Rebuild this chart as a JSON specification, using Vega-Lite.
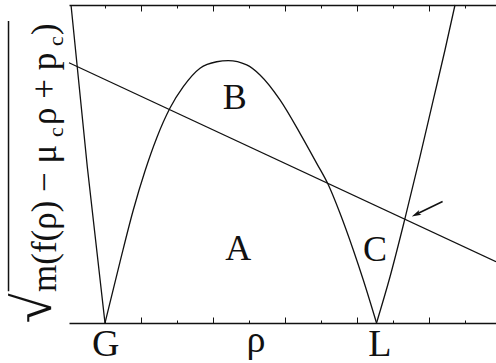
{
  "$schema": "https://vega.github.io/schema/vega-lite/v6.json",
  "width": 427,
  "height": 318,
  "autosize": {"type": "none"},
  "padding": {"left": 69, "top": 5, "right": 0, "bottom": 40},
  "background": "white",
  "config": {"view": {"stroke": null}, "font": "Liberation Serif"},
  "datasets": {
    "curve": [
      {"seg": "left", "rho": 0.056, "v": 2.0},
      {"seg": "left", "rho": 0.508, "v": 0.983},
      {"seg": "left", "rho": 1.0, "v": 0.0},
      {"seg": "mid", "rho": 1.0, "v": 0.0},
      {"seg": "mid", "rho": 1.417, "v": 0.385},
      {"seg": "mid", "rho": 1.786, "v": 0.711},
      {"seg": "mid", "rho": 2.111, "v": 0.956},
      {"seg": "mid", "rho": 2.436, "v": 1.164},
      {"seg": "mid", "rho": 2.806, "v": 1.352},
      {"seg": "mid", "rho": 3.175, "v": 1.486},
      {"seg": "mid", "rho": 3.639, "v": 1.602},
      {"seg": "mid", "rho": 4.103, "v": 1.643},
      {"seg": "mid", "rho": 4.425, "v": 1.65},
      {"seg": "mid", "rho": 4.936, "v": 1.623},
      {"seg": "mid", "rho": 5.306, "v": 1.56},
      {"seg": "mid", "rho": 5.861, "v": 1.403},
      {"seg": "mid", "rho": 6.417, "v": 1.193},
      {"seg": "mid", "rho": 6.881, "v": 1.004},
      {"seg": "mid", "rho": 7.203, "v": 0.869},
      {"seg": "mid", "rho": 7.528, "v": 0.69},
      {"seg": "mid", "rho": 7.897, "v": 0.459},
      {"seg": "mid", "rho": 8.175, "v": 0.27},
      {"seg": "mid", "rho": 8.542, "v": 0.0},
      {"seg": "right", "rho": 8.542, "v": 0.0},
      {"seg": "right", "rho": 8.917, "v": 0.291},
      {"seg": "right", "rho": 9.333, "v": 0.658},
      {"seg": "right", "rho": 9.75, "v": 1.046},
      {"seg": "right", "rho": 10.119, "v": 1.403},
      {"seg": "right", "rho": 10.444, "v": 1.717},
      {"seg": "right", "rho": 10.722, "v": 2.0}
    ],
    "tangent": [
      {"rho": 0.0, "v": 1.637},
      {"rho": 11.861, "v": 0.386}
    ],
    "arrowShaft": [
      {"rho": 10.378, "v": 0.764},
      {"rho": 9.66, "v": 0.686}
    ],
    "arrowHead": [
      {"rho": 9.64, "v": 0.683}
    ],
    "regions": [
      {"label": "B", "rho": 4.603, "v": 1.346},
      {"label": "A", "rho": 4.703, "v": 0.396},
      {"label": "C", "rho": 8.5, "v": 0.39}
    ],
    "points": [
      {"label": "G", "rho": 1.022, "v": -0.208},
      {"label": "ρ", "rho": 5.194, "v": -0.18},
      {"label": "L", "rho": 8.633, "v": -0.208}
    ],
    "titleMain": [
      {"t": "m(f(ρ) − μ", "rho": -0.361, "v": 0.195},
      {"t": "ρ + p", "rho": -0.361, "v": 1.245},
      {"t": ")", "rho": -0.361, "v": 1.811}
    ],
    "titleSub": [
      {"t": "c", "rho": -0.18, "v": 1.17},
      {"t": "c", "rho": -0.18, "v": 1.742}
    ],
    "radical": [
      {"t": "√", "rho": -0.5, "v": 0.0}
    ],
    "overline": [
      {"rho": -1.68, "v": 0.2, "v2": 1.9}
    ]
  },
  "layer": [
    {
      "data": {"name": "curve"},
      "mark": {"type": "line", "interpolate": "monotone", "color": "#111", "strokeWidth": 1.3},
      "encoding": {
        "x": {
          "field": "rho", "type": "quantitative",
          "scale": {"domain": [0, 11.861], "nice": false, "zero": false},
          "axis": {
            "orient": "bottom", "title": null, "labels": false, "grid": false,
            "values": [1, 2, 3, 4, 5, 6, 7, 8, 9, 10, 11],
            "domainColor": "#111", "domainWidth": 1.5,
            "tickColor": "#111", "tickWidth": 1,
            "tickSize": {"condition": {"test": "datum.value % 2 === 0", "value": -6}, "value": -3}
          }
        },
        "y": {
          "field": "v", "type": "quantitative",
          "scale": {"domain": [0, 2], "nice": false, "zero": false},
          "axis": {
            "orient": "left", "title": null, "labels": false, "grid": false,
            "values": [1],
            "domainColor": "#111", "domainWidth": 1.5,
            "tickColor": "#111", "tickWidth": 1, "tickSize": -5
          }
        },
        "detail": {"field": "seg", "type": "nominal"}
      }
    },
    {
      "data": {"name": "tangent"},
      "mark": {"type": "line", "color": "#111", "strokeWidth": 1.3},
      "encoding": {
        "x": {
          "field": "rho", "type": "quantitative",
          "scale": {"domain": [0, 11.861], "nice": false, "zero": false},
          "axis": {
            "orient": "top", "title": null, "labels": false, "grid": false,
            "values": [1, 2, 3, 4, 5, 6, 7, 8, 9, 10, 11],
            "domainColor": "#111", "domainWidth": 1.5,
            "tickColor": "#111", "tickWidth": 1,
            "tickSize": {"condition": {"test": "datum.value % 2 === 0", "value": -6}, "value": -3}
          }
        },
        "y": {"field": "v", "type": "quantitative", "axis": null}
      }
    },
    {
      "data": {"name": "arrowShaft"},
      "mark": {"type": "line", "color": "#111", "strokeWidth": 1.6},
      "encoding": {
        "x": {"field": "rho", "type": "quantitative", "axis": null},
        "y": {"field": "v", "type": "quantitative", "axis": null}
      }
    },
    {
      "data": {"name": "arrowHead"},
      "mark": {
        "type": "point", "filled": true, "color": "#111", "opacity": 1,
        "shape": "M-1,0L1,-0.55L0.55,0L1,0.55Z", "size": 90, "angle": 334.5
      },
      "encoding": {
        "x": {"field": "rho", "type": "quantitative", "axis": null},
        "y": {"field": "v", "type": "quantitative", "axis": null}
      }
    },
    {
      "data": {"name": "regions"},
      "mark": {"type": "text", "fontSize": 36, "align": "center", "baseline": "alphabetic", "color": "#111"},
      "encoding": {
        "x": {"field": "rho", "type": "quantitative", "axis": null},
        "y": {"field": "v", "type": "quantitative", "axis": null},
        "text": {"field": "label"}
      }
    },
    {
      "data": {"name": "points"},
      "mark": {"type": "text", "fontSize": 38, "align": "center", "baseline": "alphabetic", "color": "#111"},
      "encoding": {
        "x": {"field": "rho", "type": "quantitative", "axis": null},
        "y": {"field": "v", "type": "quantitative", "axis": null},
        "text": {"field": "label"}
      }
    },
    {
      "data": {"name": "titleMain"},
      "mark": {"type": "text", "fontSize": 35, "angle": 270, "align": "left", "baseline": "alphabetic", "color": "#111"},
      "encoding": {
        "x": {"field": "rho", "type": "quantitative", "axis": null},
        "y": {"field": "v", "type": "quantitative", "axis": null},
        "text": {"field": "t"}
      }
    },
    {
      "data": {"name": "titleSub"},
      "mark": {"type": "text", "fontSize": 22, "angle": 270, "align": "left", "baseline": "alphabetic", "color": "#111"},
      "encoding": {
        "x": {"field": "rho", "type": "quantitative", "axis": null},
        "y": {"field": "v", "type": "quantitative", "axis": null},
        "text": {"field": "t"}
      }
    },
    {
      "data": {"name": "radical"},
      "mark": {"type": "text", "fontSize": 54, "angle": 270, "align": "left", "baseline": "alphabetic", "color": "#111"},
      "encoding": {
        "x": {"field": "rho", "type": "quantitative", "axis": null},
        "y": {"field": "v", "type": "quantitative", "axis": null},
        "text": {"field": "t"}
      }
    },
    {
      "data": {"name": "overline"},
      "mark": {"type": "rule", "color": "#111", "strokeWidth": 1.5},
      "encoding": {
        "x": {"field": "rho", "type": "quantitative", "axis": null},
        "y": {"field": "v", "type": "quantitative", "axis": null},
        "y2": {"field": "v2"}
      }
    }
  ],
  "resolve": {"axis": {"x": "independent"}}
}
